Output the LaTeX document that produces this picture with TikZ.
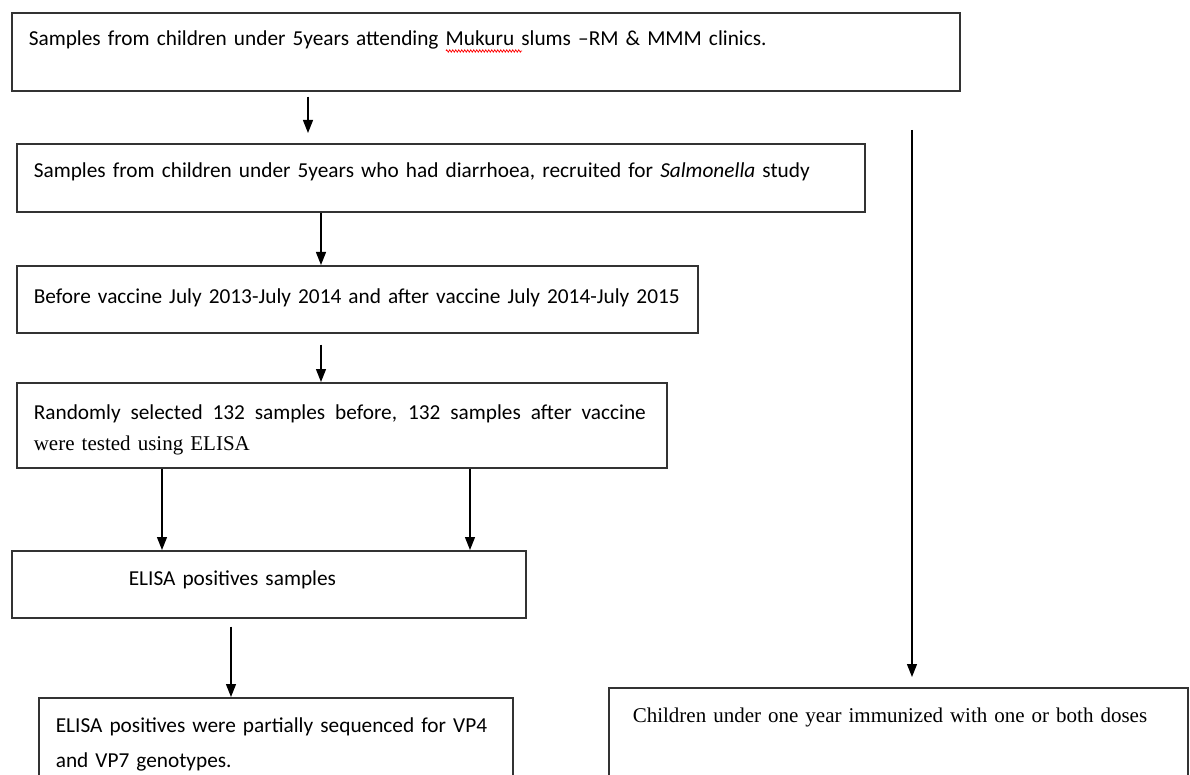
\documentclass[tikz,border=0pt]{standalone}
\usepackage{fontspec}
\setmainfont{Carlito}
\newfontfamily\timesfont{Liberation Serif}
\usetikzlibrary{arrows.meta,decorations.pathmorphing}

\begin{document}
\begin{tikzpicture}[x=1pt, y=-1pt,
  box/.style = {draw=black!80, line width=1.6pt, anchor=north west,
    align=left, inner xsep=17pt, inner ysep=0pt,
    font=\fontsize{21.3}{31}\selectfont},
  arr/.style = {-{Triangle[length=13pt,width=10pt]}, line width=1.3pt}]
  \clip (0,0) rectangle (1190,775);
  \node[box, text width=914pt, text height=33pt, text depth=45pt] (samples) at (11,12)
    {Samples from children under 5years attending Mukuru slums --RM \& MMM clinics.};
  \node[box, text width=814pt, text height=34pt, text depth=34pt] (diarrhoea) at (16,143)
    {Samples from children under 5years who had diarrhoea, recruited for \textit{Salmonella} study};
  \node[box, text width=647pt, text height=38pt, text depth=29pt] (period) at (16,265)
    {Before vaccine July 2013-July 2014 and after vaccine July 2014-July 2015};
  \node[box, text width=616pt, text height=37pt, text depth=48pt] (elisa) at (16,382)
    {\makebox[612pt][s]{\spaceskip=.25em plus 1em Randomly selected 132 samples before, 132 samples after vaccine}\\
     {\timesfont\fontsize{21}{31}\selectfont were tested using ELISA}};
  \node[box, text width=480pt, text height=35pt, text depth=32pt] (positives) at (11,550)
    {\hspace*{100pt}ELISA positives samples};
  \node[box, text width=440pt, text height=35pt, text depth=80pt,
    font=\fontsize{21.3}{35}\selectfont] (sequenced) at (38,697)
    {ELISA positives were partially sequenced for VP4\\ and VP7 genotypes.};
  \node[box, inner xsep=24pt, text width=531pt, text height=35pt, text depth=100pt,
    font=\timesfont\fontsize{21}{31}\selectfont] (immunized) at (608,687)
    {Children under one year immunized with one or both doses};
  \coordinate (vaccine) at (912,130);
  % spell-check mark under Mukuru
  \draw[red, line width=0.7pt, decorate, decoration={zigzag, segment length=3pt, amplitude=1.2pt}]
    (446,51) -- (522,51);

  \draw[arr, shorten <=5pt, shorten >=10pt] ([xshift=297pt]samples.south west) -- ([xshift=292pt]diarrhoea.north west);
  \draw[arr] ([xshift=305pt]diarrhoea.south west) -- ([xshift=305pt]period.north west);
  \draw[arr, shorten <=11pt] ([xshift=305pt]period.south west) -- ([xshift=305pt]elisa.north west);
  \draw[arr] ([xshift=146pt]elisa.south west) -- ([xshift=151pt]positives.north west);
  \draw[arr] ([xshift=454pt]elisa.south west) -- ([xshift=459pt]positives.north west);
  \draw[arr, shorten <=8pt] ([xshift=220pt]positives.south west) -- ([xshift=193pt]sequenced.north west);
  \draw[arr, shorten >=10pt] (vaccine) -- (vaccine |- immunized.north);
\end{tikzpicture}
\end{document}
